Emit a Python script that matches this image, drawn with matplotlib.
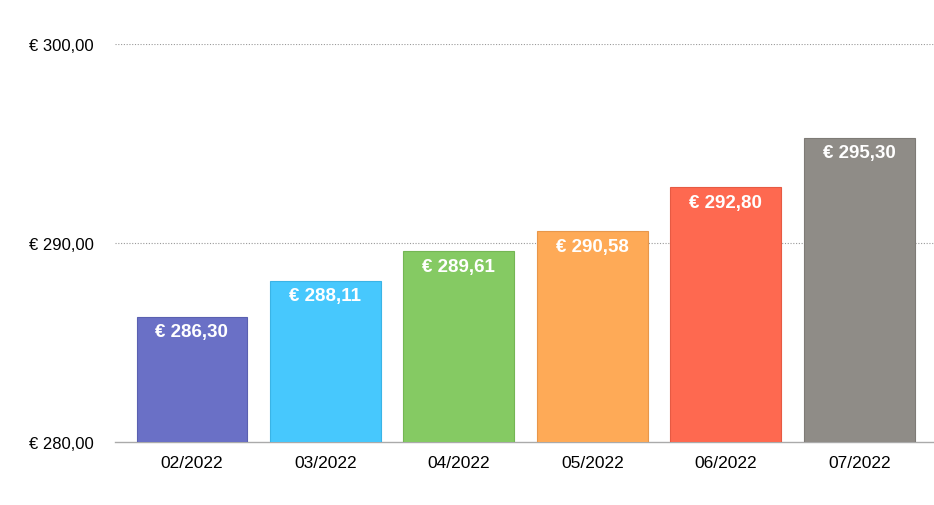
import matplotlib.pyplot as plt

months = ["02/2022", "03/2022", "04/2022", "05/2022", "06/2022", "07/2022"]
values = [286.30, 288.11, 289.61, 290.58, 292.80, 295.30]
colors = ["#6a70c6", "#47c8fd", "#85ca63", "#feaa57", "#fe6950", "#8f8c87"]
edges = ["#5a60b0", "#3ab4e6", "#74b654", "#e8974a", "#e65a43", "#7e7b76"]
yticks = [280, 290, 300]


def euro(v):
    return "€ " + f"{v:,.2f}".replace(",", "X").replace(".", ",").replace("X", ".")


plt.rcParams["font.family"] = ["Liberation Sans", "DejaVu Sans"]

fig = plt.figure(figsize=(9.34, 5.06), dpi=100)
ax = fig.add_axes([0.123, 0.1245, 0.877, 0.7866])

x = list(range(len(months)))
bars = ax.bar(x, values, width=0.83, color=colors, edgecolor=edges, linewidth=0.8,
              zorder=3)

for xi, v in zip(x, values):
    ax.annotate(euro(v), (xi, v), xytext=(0, -11), textcoords="offset points",
                ha="center", va="center", color="white", fontsize=13.5,
                fontweight="bold", zorder=4)

ax.set_ylim(280, 300)
ax.set_xlim(-0.577, 5.56)
ax.set_yticks(yticks)
ax.set_yticklabels([euro(t) for t in yticks], fontsize=12)
ax.set_xticks(x)
ax.set_xticklabels(months, fontsize=12.5)

for t in yticks[1:]:
    ax.axhline(t, color="#999999", linestyle=(0, (1, 1.5)), linewidth=0.8, zorder=1)

for s in ["top", "right", "left"]:
    ax.spines[s].set_visible(False)
ax.spines["bottom"].set_color("#aaaaaa")
ax.spines["bottom"].set_linewidth(1)
ax.tick_params(axis="both", length=0)
ax.tick_params(axis="y", pad=15)
ax.tick_params(axis="x", pad=9)

fig.savefig("out.png", dpi=100)
